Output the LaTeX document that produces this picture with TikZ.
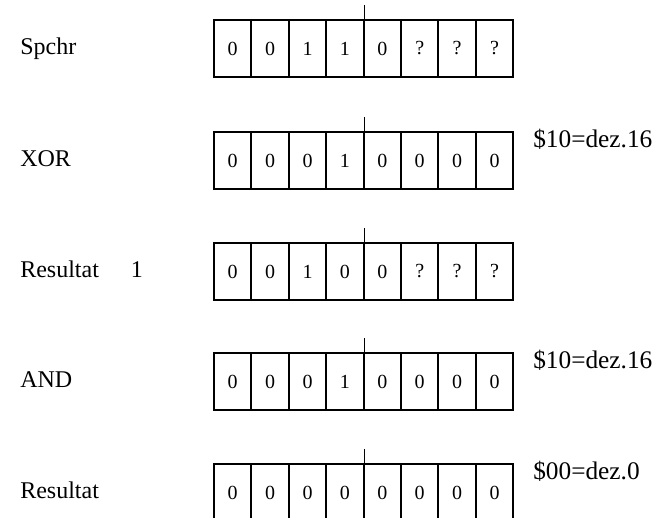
\documentclass[tikz,border=0pt]{standalone}
\usepackage{fontspec}
\setmainfont{Liberation Serif}
\usetikzlibrary{positioning}

\begin{document}
\begin{tikzpicture}[
  x=0.75pt, y=-0.75pt,
  bit/.style={draw, line width=1.4pt, minimum width=28.05pt, minimum height=42.75pt,
    inner sep=0pt, font=\fontsize{15}{15}\selectfont},
  rowname/.style={anchor=base west, inner sep=0pt, font=\fontsize{18}{20}\selectfont},
  hexval/.style={anchor=base west, inner sep=0pt, font=\fontsize{19}{20}\selectfont}
]
  \useasboundingbox (0,0) rectangle (659,517);
  \clip (0,0) rectangle (659,517);

  % Registers, one row each
  \foreach \name/\y/\bits/\txt in {
      spchr/48.5/{0,0,1,1,0,?,?,?}/Spchr,
      xor/160.5/{0,0,0,1,0,0,0,0}/XOR,
      res1/271.5/{0,0,1,0,0,?,?,?}/Resultat\hspace{24pt}1,
      and/381.5/{0,0,0,1,0,0,0,0}/AND,
      res/492.5/{0,0,0,0,0,0,0,0}/Resultat} {
    \node[rowname] (\name-label) at (20,\y+6) {\txt};
    \foreach \b [count=\i] in \bits
      \node[bit] (\name-\i) at ({214+37.4*(\i-0.5)},\y) {\b};
    % nibble mark
    \draw[line width=1.4pt] (\name-4.north east) -- ++(0,-14);
  }

  % Masks
  \node[hexval] (xor-hex) at (533,147) {\$10=dez.16};
  \node[hexval] (and-hex) at (533,368) {\$10=dez.16};
  \node[hexval] (res-hex) at (533,479) {\$00=dez.0};

\end{tikzpicture}
\end{document}
